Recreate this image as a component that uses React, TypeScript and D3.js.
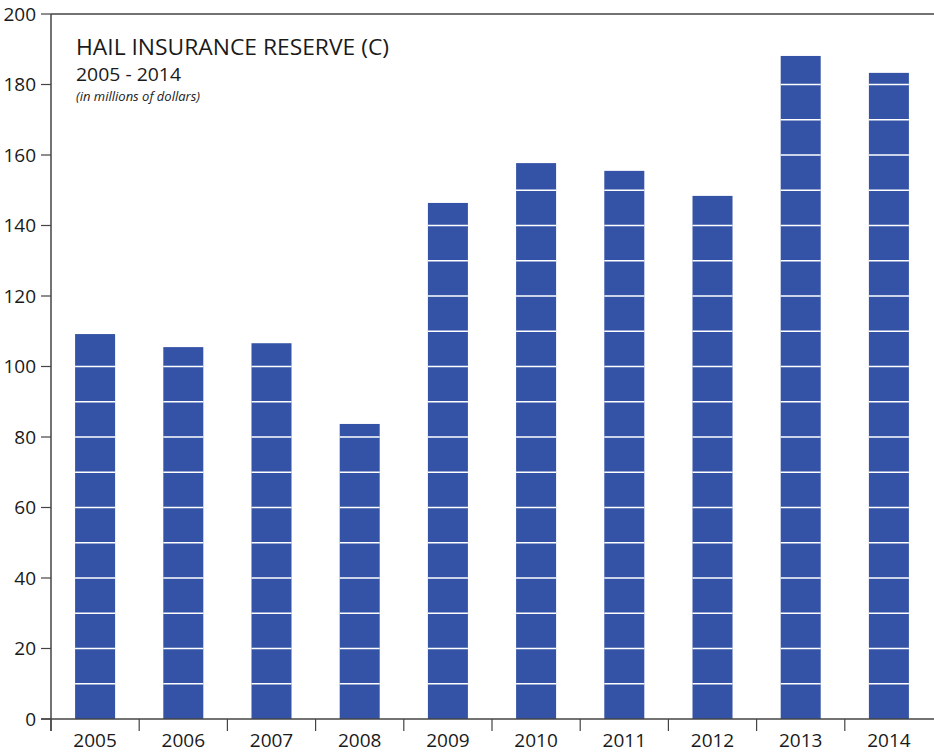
import * as d3 from "d3";

const years = ["2005", "2006", "2007", "2008", "2009", "2010", "2011", "2012", "2013", "2014"];
const reserve = [109.2, 105.5, 106.6, 83.7, 146.4, 157.7, 155.5, 148.4, 188.1, 183.3];
const yTicks = [0, 20, 40, 60, 80, 100, 120, 140, 160, 180, 200];
const stripes = d3.range(10, 200, 10);

const W = 934;
const H = 752;
const left = 51;
const right = 933;
const top = 14;
const bottom = 719;
const barColor = "#3453a6";
const axisColor = "#444";
const font = "'Open Sans', 'Noto Sans', sans-serif";

const App = () => {
  const x = d3.scaleBand().domain(years).range([left, right]);
  const y = d3.scaleLinear().domain([0, 200]).range([bottom, top]);
  const barW = 40;

  return (
    <svg width={W} height={H} style={{ position: "absolute", left: 0, top: 0 }} fontFamily={font}>
      <rect width={W} height={H} fill="#fff" />
      {/* bars */}
      {years.map((yr, i) => {
        const bx = (x(yr) ?? 0) + x.bandwidth() / 2 - barW / 2;
        return (
          <g key={yr}>
            <rect x={bx} y={y(reserve[i])} width={barW} height={bottom - y(reserve[i])} fill={barColor} />
            {stripes
              .filter((s) => s < reserve[i])
              .map((s) => (
                <line key={s} x1={bx} x2={bx + barW} y1={y(s)} y2={y(s)} stroke="#fff" strokeWidth={1.6} />
              ))}
          </g>
        );
      })}
      {/* frame */}
      <line x1={left} x2={right + 1} y1={top} y2={top} stroke={axisColor} strokeWidth={1.5} />
      <line x1={left} x2={left} y1={top} y2={731} stroke={axisColor} strokeWidth={1.5} />
      <line x1={41} x2={right + 1} y1={bottom} y2={bottom} stroke={axisColor} strokeWidth={1.5} />
      {yTicks.map((t) => (
        <g key={t}>
          <line x1={41} x2={left} y1={y(t)} y2={y(t)} stroke={axisColor} strokeWidth={1.2} />
          <text x={36} y={y(t)} dy="0.36em" textAnchor="end" fontSize={19} fill="#1a1a1a">
            {t}
          </text>
        </g>
      ))}
      {years.map((yr) => (
        <g key={yr}>
          <line x1={x(yr)} x2={x(yr)} y1={bottom} y2={731} stroke={axisColor} strokeWidth={1.2} />
          <text x={(x(yr) ?? 0) + x.bandwidth() / 2} y={747} textAnchor="middle" fontSize={19} fill="#1a1a1a">
            {yr}
          </text>
        </g>
      ))}
      {/* title */}
      <text x={76} y={55} fontSize={22} fill="#1a1a1a" textLength={313} lengthAdjust="spacingAndGlyphs">
        HAIL INSURANCE RESERVE (C)
      </text>
      <text x={76} y={81} fontSize={18} fill="#1a1a1a" textLength={105} lengthAdjust="spacingAndGlyphs">
        2005 - 2014
      </text>
      <text x={76} y={101} fontSize={13} fontStyle="italic" fill="#1a1a1a">
        (in millions of dollars)
      </text>
    </svg>
  );
};

export default App;
